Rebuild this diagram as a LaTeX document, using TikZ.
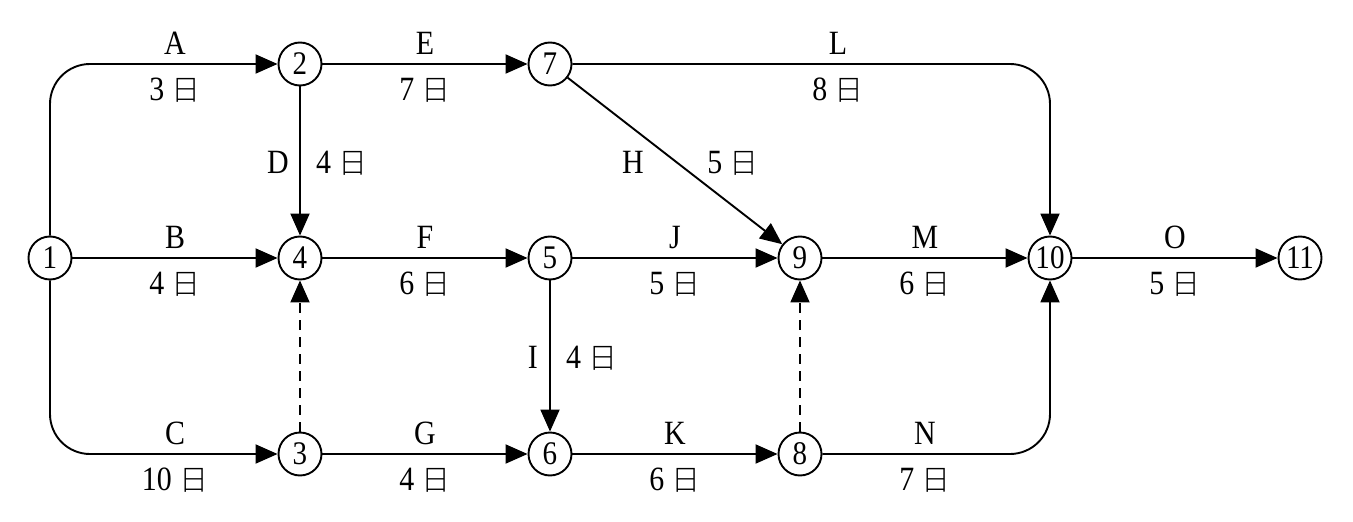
\documentclass[tikz,border=0pt]{standalone}
\usepackage{fontspec}
\setmainfont{Liberation Serif}[FakeStretch=0.88]
\newfontfamily\cjk{Noto Sans CJK SC Light}
\usetikzlibrary{arrows.meta}
\newcommand{\ri}{{\cjk\fontsize{29pt}{29pt}\selectfont 日}}
\begin{document}
\begin{tikzpicture}[x=1pt,y=-1pt,
  ev/.style={circle,draw,line width=1.9pt,minimum size=43pt,inner sep=0pt,
    font=\fontsize{33pt}{33pt}\selectfont},
  arr/.style={line width=1.9pt,-{Triangle[length=22pt,width=19pt]}},
  dum/.style={arr,dash pattern=on 10pt off 7pt},
  lb/.style={anchor=base,inner sep=0pt,font=\fontsize{34pt}{34pt}\selectfont},
  lbe/.style={lb,anchor=base east},
  lbw/.style={lb,anchor=base west}]
\useasboundingbox (0,0) rectangle (1353,522);
\node[ev] (n1)  at (50,258)   {1};
\node[ev] (n2)  at (300,64)   {2};
\node[ev] (n3)  at (300,454)  {3};
\node[ev] (n4)  at (300,258)  {4};
\node[ev] (n5)  at (550,258)  {5};
\node[ev] (n6)  at (550,454)  {6};
\node[ev] (n7)  at (550,64)   {7};
\node[ev] (n8)  at (800,454)  {8};
\node[ev] (n9)  at (800,258)  {9};
\node[ev] (n10) at (1050,258) {10};
\node[ev] (n11) at (1300,258) {11};
% edges
\draw[arr,rounded corners=40pt] (n1) |- (n2);
\draw[arr] (n1) -- (n4);
\draw[arr,rounded corners=40pt] (n1) |- (n3);
\draw[arr] (n2) -- (n7);
\draw[arr] (n2) -- (n4);
\draw[dum] (n3) -- (n4);
\draw[arr] (n4) -- (n5);
\draw[arr] (n3) -- (n6);
\draw[arr] (n5) -- (n9);
\draw[arr] (n5) -- (n6);
\draw[arr] (n7) -- (n9);
\draw[arr] (n6) -- (n8);
\draw[dum] (n8) -- (n9);
\draw[arr,rounded corners=40pt] (n7) -| (n10);
\draw[arr] (n9) -- (n10);
\draw[arr,rounded corners=40pt] (n8) -| (n10);
\draw[arr] (n10) -- (n11);
% labels
\node[lb] (la) at (175,54)  {A};   \node[lb] (da) at (175,100) {3 \ri};
\node[lb] (lb) at (175,248) {B};   \node[lb] (db) at (175,294) {4 \ri};
\node[lb] (lc) at (175,444) {C};   \node[lb] (dc) at (175,490) {10 \ri};
\node[lb] (le) at (425,54)  {E};   \node[lb] (de) at (425,100) {7 \ri};
\node[lb] (lf) at (425,248) {F};   \node[lb] (df) at (425,294) {6 \ri};
\node[lb] (lg) at (425,444) {G};   \node[lb] (dg) at (425,490) {4 \ri};
\node[lb] (lj) at (675,248) {J};   \node[lb] (dj) at (675,294) {5 \ri};
\node[lb] (lk) at (675,444) {K};   \node[lb] (dk) at (675,490) {6 \ri};
\node[lb] (ll) at (838,54)  {L};   \node[lb] (dl) at (838,100) {8 \ri};
\node[lb] (lm) at (925,248) {M};   \node[lb] (dm) at (925,294) {6 \ri};
\node[lb] (ln) at (925,444) {N};   \node[lb] (dn) at (925,490) {7 \ri};
\node[lb] (lo) at (1175,248) {O};  \node[lb] (do) at (1175,294) {5 \ri};
\node[lbe] (ld) at (289,173) {D};  \node[lbw] (dd) at (316,173) {4 \ri};
\node[lbe] (li) at (538,368) {I};  \node[lbw] (di) at (566,368) {4 \ri};
\node[lb] (lh) at (633,173) {H};   \node[lb] (dh) at (733,173) {5 \ri};
\end{tikzpicture}
\end{document}
